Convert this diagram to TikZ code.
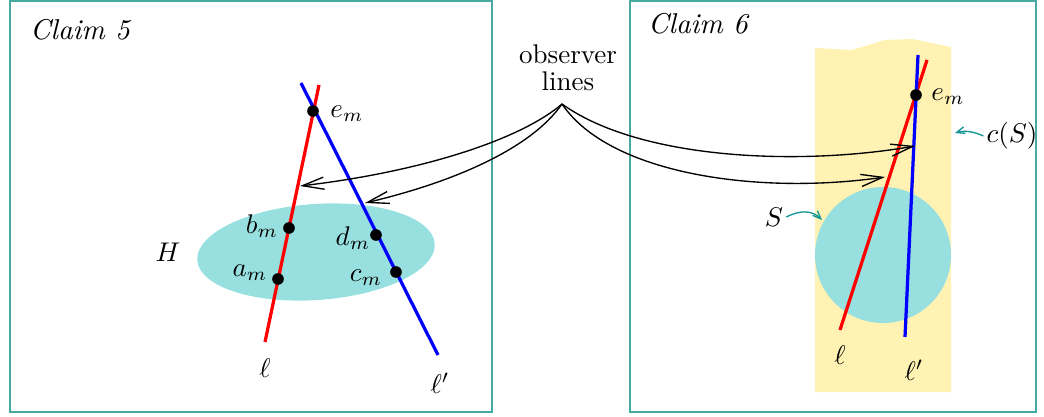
\documentclass[tikz,border=0pt]{standalone}
\usepackage{amsmath,amssymb}
\usetikzlibrary{positioning,arrows.meta,calc}
\definecolor{boxteal}{RGB}{70,170,160}
\definecolor{blobcyan}{RGB}{152,224,224}
\definecolor{zoneyellow}{RGB}{255,242,179}
\definecolor{arrteal}{RGB}{20,150,150}

\begin{document}
\begin{tikzpicture}[x=0.37pt, y=-0.37pt, font=\normalsize,
  frame/.style={draw=boxteal, line width=0.7pt},
  claim/.style={inner sep=1pt, font=\fontsize{10.6pt}{13pt}\selectfont\itshape},
  redline/.style={draw=red, line width=1.2pt},
  blueline/.style={draw=blue, line width=1.2pt},
  pt/.style={fill=black, circle, inner sep=0pt, minimum size=4.3pt},
  lab/.style={inner sep=1pt},
  obsarr/.style={-{Straight Barb[length=8pt, width=4.5pt]}, line width=0.5pt},
  hintarr/.style={-{Straight Barb[length=3pt, width=2.5pt]}, draw=arrteal, line width=0.5pt}]
\useasboundingbox (0,0) rectangle (1044,417);

% frames
\draw[frame] (10,1) rectangle (492,412);
\draw[frame] (630,1) rectangle (1036,412);
\node[claim] (c5) at (80,30) {Claim 5};
\node[claim] (c6) at (698,24) {Claim 6};

% left part
\fill[blobcyan, rotate around={4:(316,252)}] (316,252) ellipse [x radius=119, y radius=48];
\node[lab] (H) at (168,252) {$H$};
\draw[redline] (265,342) coordinate (l1) -- (319,85) coordinate (l2);
\draw[blueline] (301,83) coordinate (k1) -- (438,355) coordinate (k2);
\node[pt] (em) at (313,111) {};
\node[pt] (bm) at (289,228) {};
\node[pt] (am) at (278,279) {};
\node[pt] (dm) at (376,235) {};
\node[pt] (cm) at (396,272) {};
\node[lab] at (347,114) {$e_m$};
\node[lab] at (262,226) {$b_m$};
\node[lab] at (250,273) {$a_m$};
\node[lab] at (353,238) {$d_m$};
\node[lab] at (366,278) {$c_m$};
\node[lab] (ell) at (265,368) {$\ell$};
\node[lab] (ellp) at (440,383) {$\ell'$};

% right part
\fill[zoneyellow] (815,48) -- (852,50) -- (885,40) -- (912,39) -- (951,47) -- (951,392) -- (815,392) -- cycle;
\fill[blobcyan] (883,255) circle [radius=68];
\draw[redline] (840,330) coordinate (r1) -- (927,60) coordinate (r2);
\draw[blueline] (905,337) coordinate (s1) -- (918,55) coordinate (s2);
\node[pt] (emr) at (916,95) {};
\node[lab] at (948,97) {$e_m$};
\node[lab] (cS) at (1012,136) {$c(S)$};
\node[lab] (S) at (774,217) {$S$};
\node[lab] at (840,355) {$\ell$};
\node[lab] at (914,370) {$\ell'$};
\coordinate (cSend) at (955,133);
\coordinate (Send) at (822,220);
\draw[hintarr] (cS.west) .. controls (975,132) and (965,130) .. (cSend);
\draw[hintarr] (S.east) .. controls (800,210) and (812,210) .. (Send);

% observer lines
\node[lab, align=center] (obs) at (568,68) {observer\\[-2pt]lines};
\coordinate (src) at (562,104);
\coordinate (t1) at (300,186);
\coordinate (t2) at (365,203);
\coordinate (t3) at (915,146);
\coordinate (t4) at (885,177);
\draw[obsarr] (src) .. controls (520,140) and (420,172) .. (t1);
\draw[obsarr] (src) .. controls (530,150) and (450,183) .. (t2);
\draw[obsarr] (src) .. controls (640,160) and (800,166) .. (t3);
\draw[obsarr] (src) .. controls (610,175) and (760,195) .. (t4);
\end{tikzpicture}
\end{document}
